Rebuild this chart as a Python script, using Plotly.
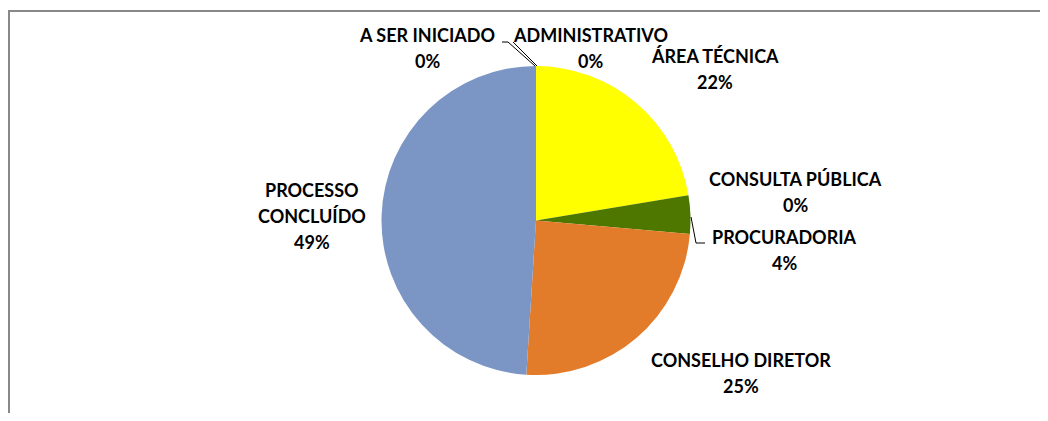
import plotly.graph_objects as go

# janela 1048x421; o body da pagina tem margem de 8px
WIN_W, WIN_H, OFF = 1048, 421, 8
W, H = WIN_W - 2 * OFF, WIN_H - 2 * OFF

# dados (percentuais por etapa)
labels = ["ADMINISTRATIVO", "ÁREA TÉCNICA", "CONSULTA PÚBLICA", "PROCURADORIA",
          "CONSELHO DIRETOR", "PROCESSO CONCLUÍDO", "A SER INICIADO"]
values = [0, 22.4, 0, 4.0, 24.6, 49.0, 0]
colors = ["#A5A5A5", "#FFFF00", "#4472C4", "#4E7700", "#E27B2A", "#7B96C5", "#5B9BD5"]
label_lines = [["ADMINISTRATIVO"], ["ÁREA TÉCNICA"], ["CONSULTA PÚBLICA"], ["PROCURADORIA"],
               ["CONSELHO DIRETOR"], ["PROCESSO", "CONCLUÍDO"], ["A SER INICIADO"]]

# posicao dos rotulos em pixels da tela (centro da primeira linha)
label_pos = [(590, 35), (715, 56), (795, 179), (784, 237), (741, 360), (312, 190), (427, 35)]
line_gap = 26


def px(x, y):
    return (x - OFF) / W, 1 - (y - OFF) / H


cx, cy, r = 536, 220.5, 154.5
x0, y1 = px(cx - r, cy - r)
x1, y0 = px(cx + r, cy + r)

fig = go.Figure(go.Pie(
    labels=labels, values=values, sort=False, direction="clockwise", rotation=0,
    marker=dict(colors=colors, line=dict(width=0)),
    textinfo="none", hoverinfo="label+percent", showlegend=False,
    domain=dict(x=[x0, x1], y=[y0, y1]),
))

total = sum(values)
for lines, v, (lx, ly) in zip(label_lines, values, label_pos):
    for i, t in enumerate(lines + ["%d%%" % round(v / total * 100)]):
        ax, ay = px(lx, ly + i * line_gap)
        fig.add_annotation(
            x=ax, y=ay, xref="paper", yref="paper", xanchor="center", yanchor="middle",
            text="<b>%s</b>" % t, showarrow=False,
            font=dict(family="Lato", size=18, color="black"),
        )


def seg(pts, color="black", width=1):
    path = "M " + " L ".join("%f,%f" % px(x, y) for x, y in pts)
    fig.add_shape(type="path", path=path, xref="paper", yref="paper",
                  line=dict(color=color, width=width))


seg([(502, 42), (508, 42), (535, 66)])
seg([(513, 42), (537, 66)])
seg([(691, 217), (696, 243), (705, 243)])

# moldura
seg([(9, 430), (9, 11), (1060, 11)], color="#888888", width=2)

fig.update_layout(width=W, height=H, margin=dict(l=0, r=0, t=0, b=0),
                  paper_bgcolor="white", plot_bgcolor="white")
fig.write_html("out.html")
